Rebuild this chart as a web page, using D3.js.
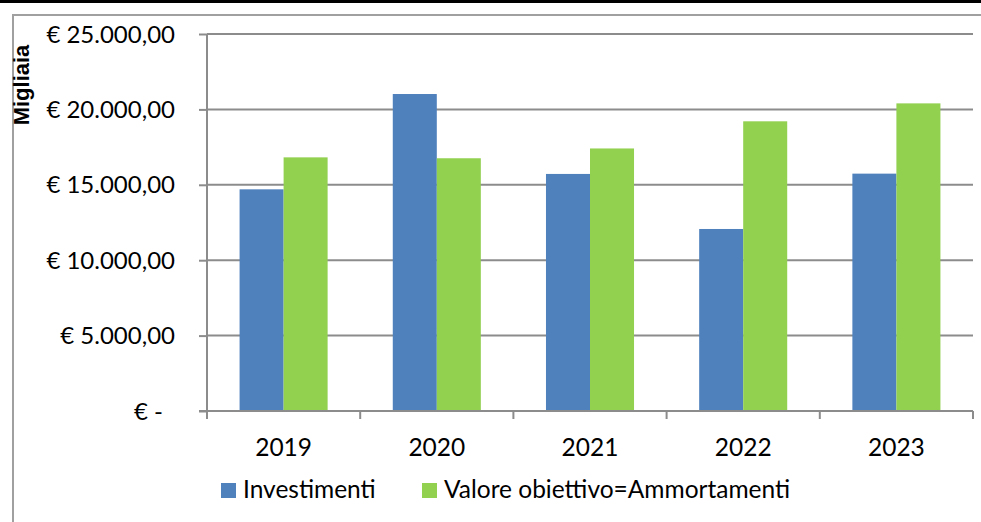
<!DOCTYPE html>
<html>
<head>
<meta charset="utf-8">
<script src="https://cdn.jsdelivr.net/npm/d3@7"></script>
<style>
  html, body { margin: 0; padding: 0; background: #fff; }
  svg { display: block; }
  text { font-family: Lato, "Open Sans", sans-serif; fill: #000; }
</style>
</head>
<body>
<svg id="chart" width="981" height="522"></svg>
<script>
// ---- data ----
const categories = ["2019", "2020", "2021", "2022", "2023"];
const seriesNames = ["Investimenti", "Valore obiettivo=Ammortamenti"];
const investimenti = [14700, 21020, 15720, 12070, 15740];
const valoreObiettivo = [16820, 16760, 17410, 19210, 20400];
const yTicks = [0, 5000, 10000, 15000, 20000, 25000];
const colors = ["#4f81bd", "#92d050"];

const seriesValues = [investimenti, valoreObiettivo];
const rows = categories.map((c, i) => ({
  cat: c,
  vals: seriesNames.map((s, j) => ({ key: s, value: seriesValues[j][i] }))
}));

const svg = d3.select("#chart");

// frame: black top rule and grey chart border
svg.append("rect").attr("x", 0).attr("y", 0).attr("width", 981).attr("height", 3).attr("fill", "#000");
svg.append("path").attr("d", "M13,522 V15 H981")
  .attr("fill", "none").attr("stroke", "#a0a0a0").attr("stroke-width", 2);

const plot = { left: 207, right: 973, top: 34, bottom: 411 };

const x = d3.scaleBand().domain(categories).range([plot.left, plot.right]).paddingInner(0).paddingOuter(0);
const xs = d3.scaleBand().domain(seriesNames).range([0, x.bandwidth()]).paddingInner(0).paddingOuter(0.74);
const y = d3.scaleLinear().domain([0, 25000]).range([plot.bottom, plot.top]);

const itFmt = d3.formatLocale({ decimal: ",", thousands: ".", grouping: [3], currency: ["€ ", ""] }).format(",.2f");

// gridlines
svg.append("g").selectAll("line").data(yTicks.filter(d => d > 0)).join("line")
  .attr("x1", plot.left).attr("x2", plot.right)
  .attr("y1", d => y(d)).attr("y2", d => y(d))
  .attr("stroke", "#8c8c8c").attr("stroke-width", 2);

// bars
const groups = svg.append("g").selectAll("g").data(rows).join("g")
  .attr("transform", d => `translate(${x(d.cat)},0)`);
groups.selectAll("rect").data(d => d.vals).join("rect")
  .attr("x", d => xs(d.key))
  .attr("width", xs.bandwidth())
  .attr("y", d => y(d.value))
  .attr("height", d => y(0) - y(d.value))
  .attr("fill", (d, i) => colors[i]);

// y axis
const yAxis = d3.axisLeft(y).tickValues(yTicks).tickSize(8).tickPadding(0)
  .tickFormat(d => "");
const gy = svg.append("g").attr("transform", `translate(${plot.left},0)`).call(yAxis);
gy.select(".domain").attr("stroke", "#8c8c8c").attr("stroke-width", 2).attr("d", `M-8,${plot.bottom}H0V${plot.top}`);
gy.selectAll(".tick line").attr("stroke", "#8c8c8c").attr("stroke-width", 2);

// y tick labels
svg.append("g").selectAll("text").data(yTicks).join("text")
  .attr("x", d => d === 0 ? 163 : 175)
  .attr("y", d => y(d))
  .attr("dy", "0.36em")
  .attr("text-anchor", "end")
  .style("font-size", "24px")
  .text(d => d === 0 ? "€ -" : "€ " + itFmt(d));

// x axis
const gx = svg.append("g").attr("transform", `translate(0,${plot.bottom})`);
gx.append("line").attr("x1", plot.left - 8).attr("x2", plot.right)
  .attr("stroke", "#8c8c8c").attr("stroke-width", 2);
const boundaries = categories.map(c => x(c)).concat([x(categories[categories.length - 1]) + x.bandwidth()]);
gx.selectAll("line.tk").data(boundaries).join("line").attr("class", "tk")
  .attr("x1", d => d).attr("x2", d => d).attr("y1", 0).attr("y2", 8)
  .attr("stroke", "#8c8c8c").attr("stroke-width", 2);
gx.selectAll("text").data(categories).join("text")
  .attr("x", d => x(d) + x.bandwidth() / 2)
  .attr("y", 45)
  .attr("text-anchor", "middle")
  .style("font-size", "24.5px")
  .text(d => d);

// y title
svg.append("text")
  .attr("transform", "translate(29,85) rotate(-90)")
  .attr("text-anchor", "middle")
  .style("font-family", "'Liberation Sans', Arial, sans-serif")
  .style("font-size", "22px").style("font-weight", "bold")
  .text("Migliaia");

// legend
const legendX = [221, 422];
const leg = svg.append("g").selectAll("g").data(seriesNames).join("g")
  .attr("transform", (d, i) => `translate(${legendX[i]},483)`);
leg.append("rect").attr("width", 15).attr("height", 15).attr("fill", (d, i) => colors[i]);
leg.append("text").attr("x", 22).attr("y", 15)
  .style("font-size", "24.5px").text(d => d);
</script>
</body>
</html>
